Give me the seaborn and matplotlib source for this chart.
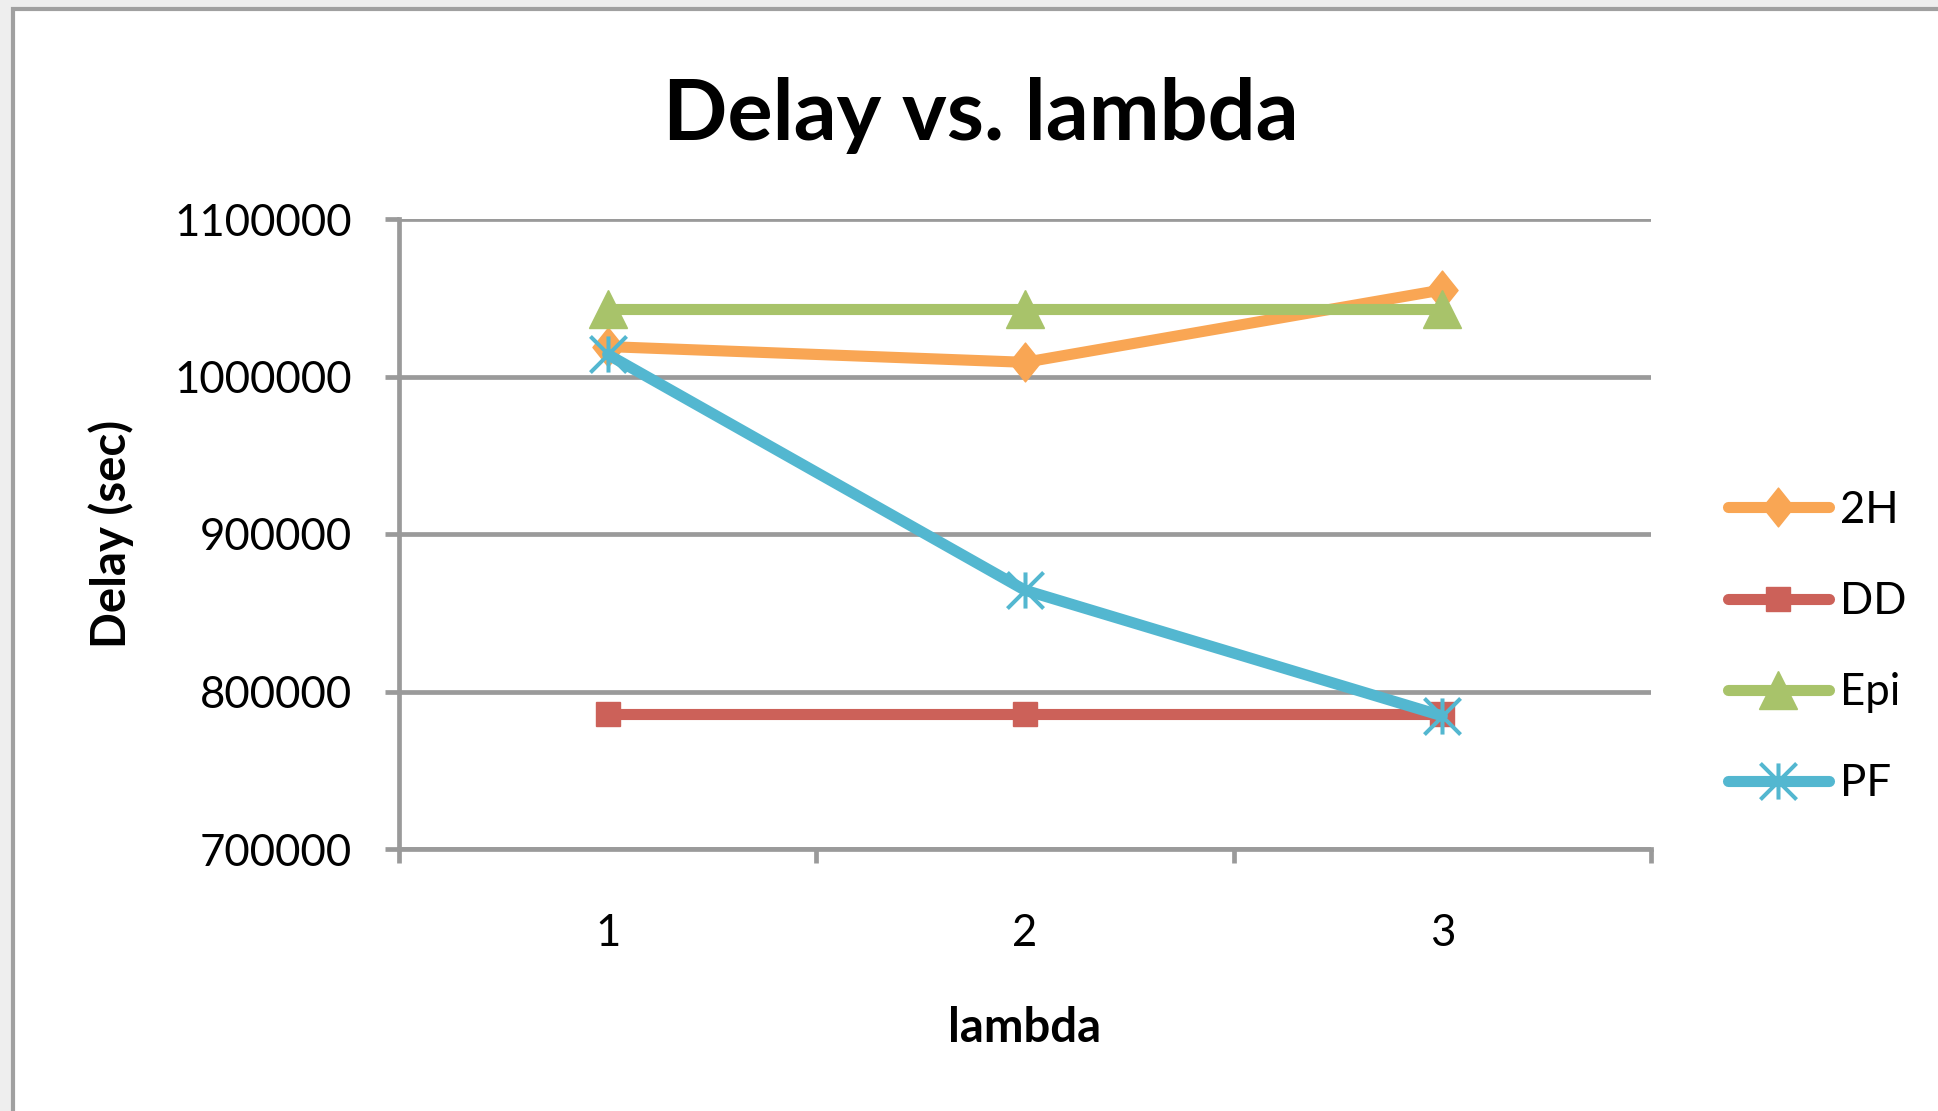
import numpy as np
import pandas as pd
import matplotlib
matplotlib.use("Agg")
import matplotlib.pyplot as plt
from matplotlib.path import Path
from matplotlib.patches import Rectangle
from matplotlib.ticker import FixedLocator, FixedFormatter
import seaborn as sns

# ---- data ----
lambdas = [1, 2, 3]
delay_2h = [1019000, 1009000, 1055000]
delay_dd = [786000, 786000, 786000]
delay_epi = [1043000, 1043000, 1043000]
delay_pf = [1014000, 864300, 784500]
series_names = ["2H", "DD", "Epi", "PF"]
y_ticks = [700000, 800000, 900000, 1000000, 1100000]
x_tick_labels = ["1", "2", "3"]

sns.set_style("white")
plt.rcParams["font.family"] = ["Lato", "DejaVu Sans"]
for key in ["text.color", "axes.labelcolor", "xtick.labelcolor", "ytick.labelcolor"]:
    plt.rcParams[key] = "black"

df = pd.DataFrame({
    "lambda": lambdas * 4,
    "delay": delay_2h + delay_dd + delay_epi + delay_pf,
    "series": [n for n in series_names for _ in lambdas],
})

# marker shapes: tall diamond and an asterisk (vertical bar + X)
diamond = Path([(0, 1), (0.8, 0), (0, -1), (-0.8, 0), (0, 1)],
               [Path.MOVETO, Path.LINETO, Path.LINETO, Path.LINETO, Path.CLOSEPOLY])
asterisk = Path([(0, -1), (0, 1), (-1, -1), (1, 1), (-1, 1), (1, -1)],
                [Path.MOVETO, Path.LINETO, Path.MOVETO, Path.LINETO, Path.MOVETO, Path.LINETO])

styles = {
    "2H": dict(color="#F9A654", marker=diamond, markersize=28, mew=1),
    "DD": dict(color="#CC6159", marker="s", markersize=17, mew=1),
    "Epi": dict(color="#A8C36A", marker="^", markersize=27, mew=1),
    "PF": dict(color="#53B7D0", marker=asterisk, markersize=26, mew=2.9),
}

W, H = 1938, 1111
fig = plt.figure(figsize=(W / 100, H / 100), dpi=100, facecolor="#EEEEEE")

# white chart area with grey frame, kept behind the axes
frame = Rectangle((12.7 / W, -0.05), 1.2, 1.05 - 9.3 / H, transform=fig.transFigure,
                  facecolor="white", edgecolor="#A0A0A0", linewidth=3, zorder=-10)
fig.patches.append(frame)

ax_l, ax_r, ax_t, ax_b = 399, 1651, 219, 849
ax = fig.add_axes([ax_l / W, 1 - ax_b / H, (ax_r - ax_l) / W, (ax_b - ax_t) / H])
ax.set_facecolor("none")
ax.set_zorder(1)

for name in series_names:
    st = styles[name]
    sns.lineplot(data=df[df["series"] == name], x="lambda", y="delay", ax=ax,
                 estimator=None, color=st["color"], linewidth=8,
                 marker=st["marker"], markersize=st["markersize"],
                 markerfacecolor=st["color"], markeredgecolor=st["color"],
                 markeredgewidth=st["mew"], solid_capstyle="round",
                 solid_joinstyle="round", label=name, legend=False)

grey = "#9A9A9A"
ax.set_xlim(0.5, 3.5)
ax.set_ylim(y_ticks[0], y_ticks[-1])

ax.yaxis.set_major_locator(FixedLocator(y_ticks))
ax.yaxis.set_major_formatter(FixedFormatter([str(v) for v in y_ticks]))
ax.xaxis.set_major_locator(FixedLocator(lambdas))
ax.xaxis.set_major_formatter(FixedFormatter(x_tick_labels))
ax.xaxis.set_minor_locator(FixedLocator([0.5, 1.5, 2.5, 3.5]))

ax.grid(axis="y", color=grey, linewidth=3.4)
ax.set_axisbelow(True)
for s in ["top", "right"]:
    ax.spines[s].set_visible(False)
for s in ["left", "bottom"]:
    ax.spines[s].set_color(grey)
    ax.spines[s].set_linewidth(3.4)

ax.tick_params(axis="y", which="major", direction="out", length=10, width=3.4,
               color=grey, labelsize=31.5, pad=24, left=True, labelcolor="black")
ax.tick_params(axis="x", which="major", length=0, labelsize=31.5, pad=46,
               labelcolor="black")
ax.tick_params(axis="x", which="minor", direction="out", length=10, width=3.4,
               color=grey, bottom=True)

ax.set_xlabel("lambda", fontsize=34, fontweight="bold", color="black")
ax.set_ylabel("Delay (sec)", fontsize=34, fontweight="bold", color="black")
ax.xaxis.set_label_coords(0.5, -(1028 - ax_b) / (ax_b - ax_t))
ax.xaxis.label.set_va("center")
ax.yaxis.set_label_coords(-(ax_l - 111) / (ax_r - ax_l), 0.5)
ax.yaxis.label.set_va("center")

fig.text(981 / W, 1 - 139.7 / H, "Delay vs. lambda", fontsize=61, fontweight="bold",
         ha="center", va="baseline", color="black")

handles = [l for l in ax.get_lines() if l.get_label() in series_names]
leg = fig.legend(handles=handles, labels=series_names, loc="center left",
                 bbox_to_anchor=(1728 / W, 1 - 647 / H), frameon=False, fontsize=31.5,
                 handlelength=2.3, handletextpad=0.25, labelspacing=1.15,
                 borderpad=0, borderaxespad=0)
for t in leg.get_texts():
    t.set_color("black")

fig.savefig("out.png", dpi=100, facecolor=fig.get_facecolor())
